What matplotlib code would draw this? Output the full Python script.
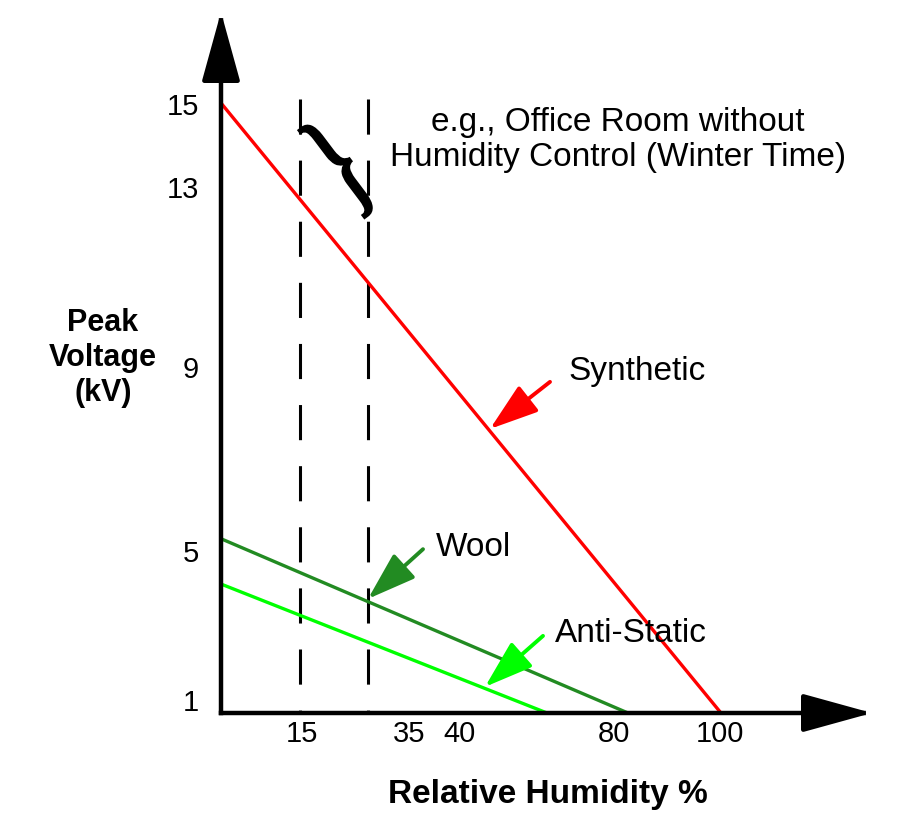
import matplotlib
matplotlib.use("Agg")
import matplotlib.pyplot as plt
import matplotlib.transforms as mtransforms
from matplotlib.textpath import TextPath
from matplotlib.patches import PathPatch
from matplotlib.font_manager import FontProperties

plt.rcParams['font.family'] = 'Liberation Sans'

# lines (schematic: humidity %, peak kV)
synthetic_x = [0, 100]
synthetic_y = [15, 1]
wool_x = [0, 81.4]
wool_y = [5, 1]
antistatic_x = [0, 65.2]
antistatic_y = [3.96, 1]

# office room band (dashed)
band_x = [15.8, 29.4]
band_top = 15.1

# tick labels sit where the drawing put them, not at their values
xtick_pos = [16.2, 37.6, 47.6, 78.6, 99.8]
xtick_labels = ["15", "35", "40", "80", "100"]
ytick_pos = [1.32, 4.74, 8.96, 13.1, 15.0]
ytick_labels = ["1", "5", "9", "13", "15"]

# callouts: (label, text pos in px, arrow start, arrow tip, colour)
callouts = [
    ("Synthetic", (568, 372), (65.8, 8.60), (53.8, 7.52), "#ff0000"),
    ("Wool", (436, 548), (40.4, 4.76), (29.4, 3.62), "#228b22"),
    ("Anti-Static", (555, 633), (64.4, 2.77), (52.8, 1.60), "#00ff00"),
]

W, H = 901, 829

fig = plt.figure(figsize=(W / 100, H / 100), dpi=100)
x0px, x1px = 221, 872
y0px, y1px = 714, 13
ax = fig.add_axes([x0px / W, 1 - y0px / H, (x1px - x0px) / W, (y0px - y1px) / H])
ax.set_xlim(0, (x1px - x0px) / 5.0)
ax.set_ylim(1, 1 + (y0px - y1px) / 43.57)
for s in ax.spines.values():
    s.set_visible(False)

ax.set_xticks(xtick_pos, xtick_labels)
ax.set_yticks(ytick_pos, ytick_labels)
ax.tick_params(axis='x', length=0, pad=4, labelsize=21)
ax.tick_params(axis='y', length=0, pad=16, labelsize=21)

# axes with big arrow heads
xmax = ax.get_xlim()[1]
ymax = ax.get_ylim()[1]
axis_arrow = dict(arrowstyle="-|>,head_length=1.45,head_width=0.4", mutation_scale=30,
                  lw=3.2, color="black", shrinkA=0, shrinkB=0, capstyle="projecting")
ax.annotate("", xy=(xmax, 1), xytext=(0, 1), arrowprops=axis_arrow, annotation_clip=False)
ax.annotate("", xy=(0, ymax), xytext=(0, 1), arrowprops=axis_arrow, annotation_clip=False)

for bx in band_x:
    ax.plot([bx, bx], [band_top, 1], color="black", lw=2.2, linestyle=(0, (11.5, 8.5)))

ax.plot(synthetic_x, synthetic_y, color="#ff0000", lw=2.4, solid_capstyle="butt")
ax.plot(wool_x, wool_y, color="#228b22", lw=2.4, solid_capstyle="butt")
ax.plot(antistatic_x, antistatic_y, color="#00ff00", lw=2.4, solid_capstyle="butt")

for label, tpos, start, tip, col in callouts:
    ax.annotate("", xy=tip, xytext=start,
                arrowprops=dict(arrowstyle="-|>,head_length=1.5,head_width=0.5", mutation_scale=20,
                                lw=2.8, color=col, shrinkA=0, shrinkB=0))
    fig.text(tpos[0] / W, 1 - tpos[1] / H, label, fontsize=24, ha="left", va="center")

fig.text(618 / W, 1 - 140 / H, "e.g., Office Room without\nHumidity Control (Winter Time)",
         fontsize=24, ha="center", va="center")
fig.text(103 / W, 1 - 358 / H, "Peak\nVoltage\n(kV)", fontsize=22, fontweight="bold",
         ha="center", va="center")
fig.text(548 / W, 1 - 795 / H, "Relative Humidity %", fontsize=24, fontweight="bold",
         ha="center", va="center")

# curly brace over the band, tilted
tp = TextPath((0, 0), "}", size=100, prop=FontProperties(family="Liberation Serif", weight="bold"))
bb = tp.get_extents()
tr = (mtransforms.Affine2D()
      .translate(-(bb.x0 + bb.x1) / 2, -(bb.y0 + bb.y1) / 2)
      .scale(26 / bb.width, 112 / bb.height)
      .rotate_deg(37)
      .translate(341, H - 168))
brace = PathPatch(tr.transform_path(tp), facecolor="black", edgecolor="none",
                  transform=mtransforms.IdentityTransform())
fig.add_artist(brace)

fig.savefig("out.png", dpi=100)
